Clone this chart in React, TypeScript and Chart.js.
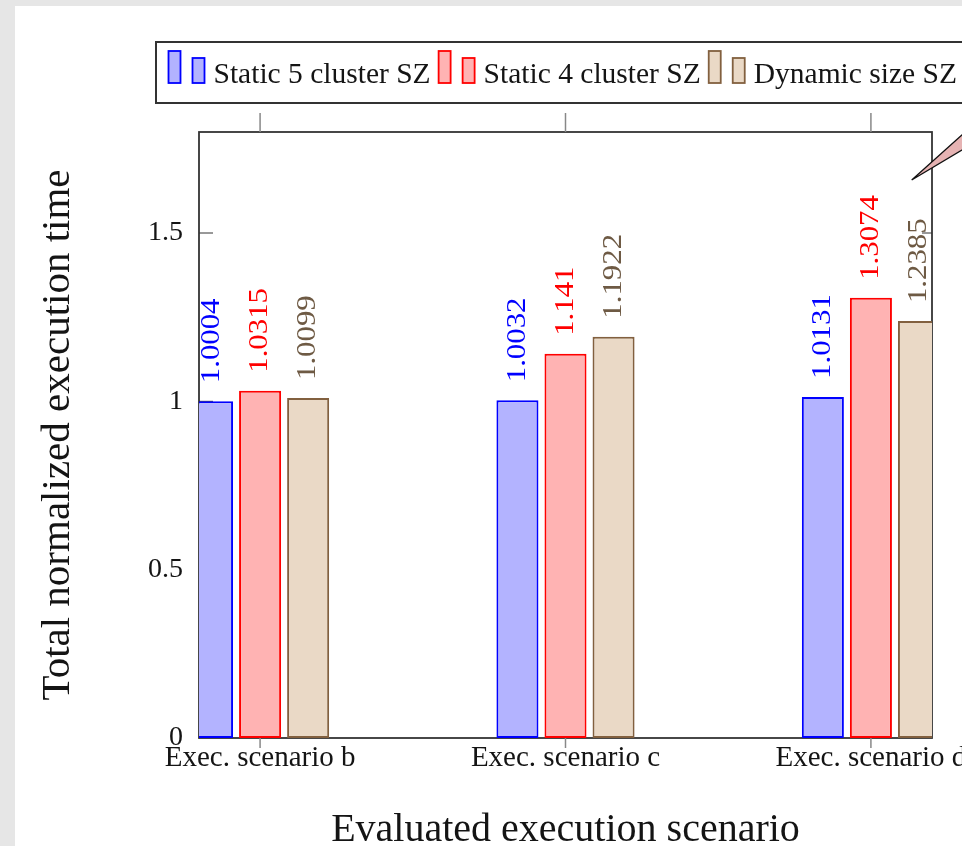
import React, { useEffect, useRef } from 'react';
import { Chart, registerables } from 'chart.js';

Chart.register(...registerables);

const categories = ['Exec. scenario b', 'Exec. scenario c', 'Exec. scenario d'];
const seriesNames = ['Static 5 cluster SZ', 'Static 4 cluster SZ', 'Dynamic size SZ'];
const static5 = [1.0004, 1.0032, 1.0131];
const static4 = [1.0315, 1.141, 1.3074];
const dynamicSize = [1.0099, 1.1922, 1.2385];
const yTicks = [0, 0.5, 1, 1.5];

const fills = ['#b3b3ff', '#ffb3b3', '#ead9c6'];
const borders = ['#0000ff', '#ff0000', '#82603f'];
const labelColors = ['#0000ff', '#ff0000', '#6e5a44'];

const FONT = '"Liberation Serif", "Times New Roman", serif';
const TEXT = '#141414';

export default function App() {
  const ref = useRef<HTMLCanvasElement | null>(null);

  useEffect(() => {
    const canvas = ref.current;
    if (!canvas) return;

    const line = (ctx: CanvasRenderingContext2D, x1: number, y1: number, x2: number, y2: number) => {
      ctx.beginPath();
      ctx.moveTo(x1, y1);
      ctx.lineTo(x2, y2);
      ctx.stroke();
    };

    const decor = {
      id: 'decor',
      beforeDatasetsDraw(chart: any) {
        const { ctx, chartArea: a, scales } = chart;
        ctx.save();
        ctx.strokeStyle = '#333';
        ctx.lineWidth = 1.8;
        ctx.strokeRect(a.left, a.top, a.right - a.left, a.bottom - a.top);
        ctx.lineWidth = 1;
        yTicks.forEach((v) => {
          if (v === 0) return;
          const py = scales.y.getPixelForValue(v);
          line(ctx, a.left, py, a.left + 14, py);
          line(ctx, a.right - 10, py, a.right, py);
        });
        ctx.strokeStyle = '#888';
        ctx.lineWidth = 1.5;
        categories.forEach((_, i) => {
          const px = scales.x.getPixelForValue(i);
          line(ctx, px, a.top - 19, px, a.top);
          line(ctx, px, a.bottom, px, a.bottom + 10);
        });
        ctx.restore();
      },
      afterDatasetsDraw(chart: any) {
        const { ctx } = chart;
        ctx.save();
        chart.data.datasets.forEach((ds: any, di: number) => {
          const meta = chart.getDatasetMeta(di);
          meta.data.forEach((el: any, i: number) => {
            const v = ds.data[i].y;
            ctx.save();
            ctx.translate(el.x, el.y - 18);
            ctx.rotate(-Math.PI / 2);
            ctx.scale(1.1, 1);
            ctx.font = `28px ${FONT}`;
            ctx.fillStyle = labelColors[di];
            ctx.textAlign = 'left';
            ctx.textBaseline = 'middle';
            ctx.fillText(String(v), 0, 0);
            ctx.restore();
          });
        });
        ctx.restore();
      },
      afterDraw(chart: any) {
        const { ctx } = chart;
        ctx.save();
        // callout
        const tipX = 911.7, tipY = 180;
        ctx.beginPath();
        ctx.moveTo(tipX, tipY);
        ctx.lineTo(1000, tipY - 0.895 * (1000 - tipX));
        ctx.lineTo(1000, tipY - 0.596 * (1000 - tipX));
        ctx.closePath();
        ctx.fillStyle = '#e6b3b3';
        ctx.fill();
        ctx.strokeStyle = '#111';
        ctx.lineWidth = 1.3;
        ctx.beginPath();
        ctx.moveTo(1000, tipY - 0.895 * (1000 - tipX));
        ctx.lineTo(tipX, tipY);
        ctx.lineTo(1000, tipY - 0.596 * (1000 - tipX));
        ctx.stroke();

        // legend
        ctx.fillStyle = '#fff';
        ctx.fillRect(156, 42, 900, 61);
        ctx.strokeStyle = '#333';
        ctx.lineWidth = 2;
        ctx.strokeRect(156, 42, 900, 61);
        ctx.font = `29.5px ${FONT}`;
        ctx.textBaseline = 'alphabetic';
        ctx.textAlign = 'left';
        let x = 168.5;
        const base = 83;
        seriesNames.forEach((name, i) => {
          ctx.fillStyle = fills[i];
          ctx.strokeStyle = borders[i];
          ctx.lineWidth = 1.8;
          ctx.fillRect(x, base - 32, 12, 32);
          ctx.strokeRect(x, base - 32, 12, 32);
          ctx.fillRect(x + 24, base - 25, 12, 25);
          ctx.strokeRect(x + 24, base - 25, 12, 25);
          ctx.fillStyle = TEXT;
          ctx.fillText(name, x + 45, base);
          x = x + 45 + ctx.measureText(name).width + 8;
        });
        ctx.restore();
      },
    };

    const mk = (vals: number[]) => vals.map((v, i) => ({ x: i, y: v }));
    const allSeries = [static5, static4, dynamicSize];

    const chart = new Chart(canvas, {
      type: 'bar',
      data: {
        datasets: allSeries.map((vals, i) => ({
          label: seriesNames[i],
          data: mk(vals),
          backgroundColor: fills[i],
          borderColor: borders[i],
          borderWidth: 2,
          borderSkipped: false,
          categoryPercentage: 0.472,
          barPercentage: 0.875,
          clip: 0,
        })) as any,
      },
      options: {
        responsive: false,
        devicePixelRatio: 1,
        animation: false,
        layout: { padding: { left: 0, right: 30, top: 132, bottom: 0 } },
        plugins: { legend: { display: false }, tooltip: { enabled: false } },
        scales: {
          x: {
            type: 'linear',
            min: -0.2,
            max: 2.2,
            offset: false,
            position: 'bottom',
            grid: { display: false, drawTicks: false, offset: false },
            border: { display: false },
            afterBuildTicks: (axis: any) => {
              axis.ticks = categories.map((_, i) => ({ value: i }));
            },
            afterFit: (s: any) => {
              s.height = 108;
              s.paddingLeft = 0;
              s.paddingRight = 0;
            },
            ticks: {
              autoSkip: false,
              maxRotation: 0,
              minRotation: 0,
              padding: 3,
              color: TEXT,
              font: { family: FONT, size: 29, lineHeight: 1.2 },
              callback: (v: any) => categories[Number(v)] ?? '',
            },
            title: {
              display: true,
              text: 'Evaluated execution scenario',
              color: TEXT,
              font: { family: FONT, size: 40, lineHeight: 0.8 },
              padding: { top: 0, bottom: 0 },
            },
          } as any,
          y: {
            type: 'linear',
            min: 0,
            max: 1.8,
            grid: { display: false, drawTicks: false },
            border: { display: false },
            afterBuildTicks: (axis: any) => {
              axis.ticks = yTicks.map((v) => ({ value: v }));
            },
            afterFit: (s: any) => {
              s.width = 199;
              s.paddingTop = 0;
              s.paddingBottom = 0;
            },
            ticks: {
              padding: 16,
              color: TEXT,
              font: { family: FONT, size: 28 },
              callback: (v: any) => String(v),
            },
            title: {
              display: true,
              text: 'Total normalized execution time',
              color: TEXT,
              font: { family: FONT, size: 41, lineHeight: 1 },
              padding: { top: 38, bottom: 0 },
            },
          } as any,
        },
      },
      plugins: [decor],
    });

    return () => chart.destroy();
  }, []);

  return (
    <div style={{ position: 'fixed', left: 0, top: 0, width: 962, height: 846, background: '#e6e6e6', overflow: 'hidden' }}>
      <div style={{ position: 'absolute', left: 15, top: 6, width: 1000, height: 900, background: '#fff' }} />
      <canvas ref={ref} width={962} height={846} style={{ position: 'absolute', left: 0, top: 0, display: 'block' }} />
    </div>
  );
}
